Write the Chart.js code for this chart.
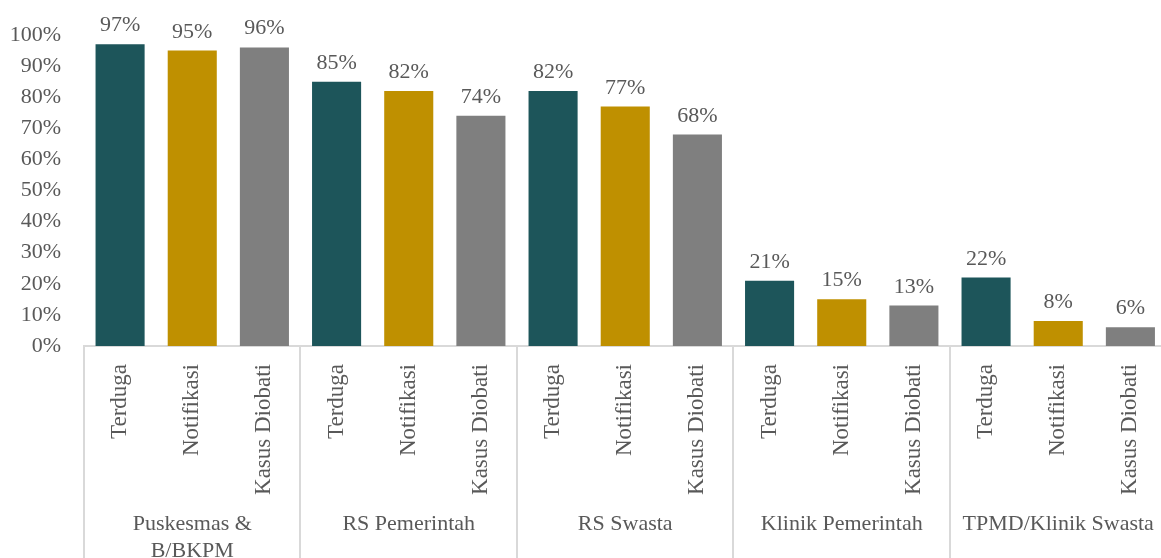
<!DOCTYPE html>
<html>
<head>
<meta charset="utf-8">
<script src="https://cdn.jsdelivr.net/npm/chart.js@4/dist/chart.umd.min.js"></script>
<style>
  html, body { margin: 0; padding: 0; background: #fff; overflow: hidden; }
  #wrap { width: 1168px; height: 558px; }
</style>
</head>
<body>
<div id="wrap"><canvas id="chart" width="1168" height="558"></canvas></div>
<script>
// Groups of facilities and the three measures shown for each
const groups = [['Puskesmas &', 'B/BKPM'], ['RS Pemerintah'], ['RS Swasta'], ['Klinik Pemerintah'], ['TPMD/Klinik Swasta']];
const measures = ['Terduga', 'Notifikasi', 'Kasus Diobati'];
const terduga = [97, 85, 82, 21, 22];
const notifikasi = [95, 82, 77, 15, 8];
const diobati = [96, 74, 68, 13, 6];
const yTicks = [0, 10, 20, 30, 40, 50, 60, 70, 80, 90, 100];

const colors = ['#1D555A', '#BF9000', '#7F7F7F'];
const FONT = '"Liberation Serif", "DejaVu Serif", serif';
const TEXT = '#595959';

// flatten into one bar per (group, measure)
const labels = [];
const values = [];
const barColors = [];
groups.forEach((g, i) => {
  [terduga, notifikasi, diobati].forEach((series, j) => {
    labels.push(measures[j]);
    values.push(series[i]);
    barColors.push(colors[j]);
  });
});

const valueLabels = {
  id: 'valueLabels',
  afterDatasetsDraw(chart) {
    const ctx = chart.ctx;
    const meta = chart.getDatasetMeta(0);
    ctx.save();
    ctx.font = '22px ' + FONT;
    ctx.fillStyle = TEXT;
    ctx.textAlign = 'center';
    ctx.textBaseline = 'alphabetic';
    meta.data.forEach((bar, i) => {
      ctx.fillText(values[i] + '%', bar.x, bar.y - 13);
    });
    ctx.restore();
  }
};

const groupAxis = {
  id: 'groupAxis',
  afterDraw(chart) {
    const ctx = chart.ctx;
    const x = chart.scales.x;
    const bottom = chart.height;
    ctx.save();
    ctx.strokeStyle = '#D9D9D9';
    ctx.lineWidth = 2;
    groups.forEach((g, i) => {
      const edge = i === 0 ? x.left : (x.getPixelForValue(i * 3) + x.getPixelForValue(i * 3 - 1)) / 2;
      ctx.beginPath();
      ctx.moveTo(Math.round(edge), x.top);
      ctx.lineTo(Math.round(edge), bottom);
      ctx.stroke();
    });
    ctx.font = '22px ' + FONT;
    ctx.fillStyle = TEXT;
    ctx.textAlign = 'center';
    ctx.textBaseline = 'middle';
    groups.forEach((g, i) => {
      const cx = x.getPixelForValue(i * 3 + 1);
      g.forEach((line, k) => ctx.fillText(line, cx, 524 + k * 27));
    });
    ctx.restore();
  }
};

new Chart(document.getElementById('chart'), {
  type: 'bar',
  data: {
    labels: labels,
    datasets: [{
      data: values,
      backgroundColor: barColors,
      barPercentage: 0.68,
      categoryPercentage: 1
    }]
  },
  options: {
    responsive: false,
    animation: false,
    layout: { padding: { top: 35, right: 0, bottom: 0, left: 0 } },
    plugins: { legend: { display: false }, tooltip: { enabled: false } },
    scales: {
      x: {
        grid: { display: false },
        border: { color: '#D9D9D9', width: 2 },
        ticks: {
          autoSkip: false,
          minRotation: 90,
          maxRotation: 90,
          padding: 10,
          color: TEXT,
          font: { family: FONT, size: 23 }
        },
        afterFit(scale) { scale.height = 212; }
      },
      y: {
        min: 0,
        max: 100,
        afterBuildTicks(scale) { scale.ticks = yTicks.map(v => ({ value: v })); },
        grid: { display: false },
        border: { display: false },
        ticks: {
          padding: 15,
          color: TEXT,
          font: { family: FONT, size: 22 },
          callback: v => v + '%'
        },
        afterFit(scale) { scale.width = 84; }
      }
    }
  },
  plugins: [valueLabels, groupAxis]
});
</script>
</body>
</html>
